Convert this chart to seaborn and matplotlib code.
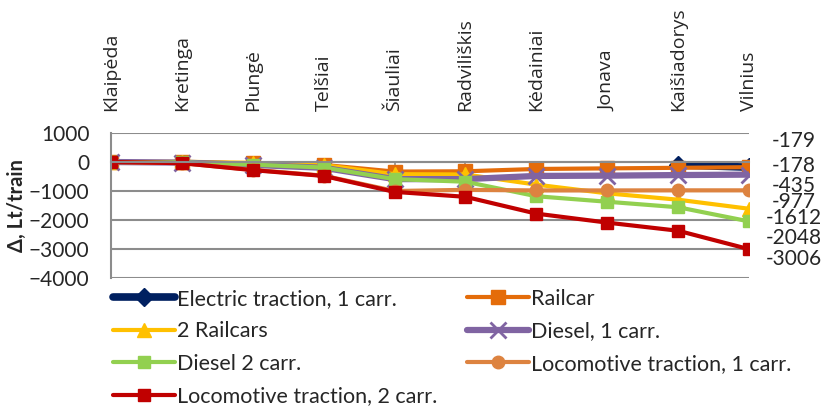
import numpy as np
import pandas as pd
import matplotlib
matplotlib.use("Agg")
import matplotlib.pyplot as plt
import seaborn as sns

# === Data ===
stations = ["Klaipėda", "Kretinga", "Plungė", "Telšiai", "Šiauliai",
            "Radviliškis", "Kėdainiai", "Jonava", "Kaišiadorys", "Vilnius"]

electric_1 = [np.nan, np.nan, np.nan, np.nan, np.nan, np.nan, np.nan, np.nan, -100, -179]
railcar = [0, -10, -50, -100, -330, -320, -240, -220, -200, -178]
railcars_2 = [0, 10, -30, -110, -420, -430, -780, -1080, -1300, -1612]
diesel_1 = [0, -20, -100, -200, -590, -590, -480, -470, -450, -435]
diesel_2 = [0, -10, -90, -190, -590, -680, -1180, -1370, -1560, -2048]
loco_1 = [0, -40, -270, -470, -1000, -960, -980, -980, -977, -977]
loco_2 = [0, -40, -280, -480, -1030, -1200, -1780, -2090, -2370, -3006]

series = [
    # name, values, color, marker, markersize, linewidth, end label, label y-offset (pt)
    ("Electric traction, 1 carr.", electric_1, "#002060", "D", 9, 5.5, "-179", 19),
    ("Railcar", railcar, "#E46C0A", "s", 10, 3, "-178", 0.5),
    ("2 Railcars", railcars_2, "#FFC000", "^", 10, 3, "-1612", -6.5),
    ("Diesel, 1 carr.", diesel_1, "#8064A2", "x", 11, 4.5, "-435", -8),
    ("Diesel 2 carr.", diesel_2, "#92D050", "s", 9, 3, "-2048", -12),
    ("Locomotive traction, 1 carr.", loco_1, "#DD8340", "o", 9, 3, "-977", -8.5),
    ("Locomotive traction, 2 carr.", loco_2, "#C00000", "s", 9, 3, "-3006", -7),
]

sns.set_style("white")
plt.rcParams['font.family'] = ['Lato', 'DejaVu Sans']

fig = plt.figure(figsize=(8.24, 4.08), dpi=100)
ax = fig.add_axes([0.1347, 0.3186, 0.9090 - 0.1347, 0.674 - 0.3186])

x = np.arange(len(stations))
handles = {}
for name, vals, color, marker, ms, lw, lab, dy in series:
    df = pd.DataFrame({"x": x, "y": vals}).dropna()
    sns.lineplot(data=df, x="x", y="y", ax=ax, color=color, marker=marker,
                 markersize=ms, linewidth=lw, markeredgecolor=color,
                 markeredgewidth=2 if marker == "x" else 1, label=name, legend=False)
    handles[name] = ax.lines[-1]
    # value label at the right end
    ax.annotate(lab, xy=(9, vals[-1]), xytext=(32, dy), textcoords="offset points",
                ha="center", va="center", fontsize=15)

ax.set_xlim(0, 9)
ax.set_ylim(-4000, 1000)
ax.set_yticks(range(-4000, 1001, 1000))
ax.tick_params(axis="y", labelsize=15, left=False, pad=12)
ax.grid(axis="y", color="#8c8c8c", linewidth=1.5)
ax.grid(axis="x", visible=False)

ax.set_xticks(x)
ax.set_xticklabels(stations)
ax.spines["bottom"].set_position(("data", 0))
ax.tick_params(axis="x", bottom=True, top=False, labelbottom=False, labeltop=True,
               direction="out", length=5, color="#8c8c8c", width=1.2, pad=11,
               labelrotation=90, labelsize=14)
for tick in ax.xaxis.get_major_ticks():
    tick.label2.set_fontfamily(["Open Sans", "DejaVu Sans"])
for s in ["top", "right"]:
    ax.spines[s].set_visible(False)
ax.spines["left"].set_color("#8c8c8c")
ax.spines["left"].set_linewidth(1.5)
ax.spines["bottom"].set_color("#8c8c8c")
ax.spines["bottom"].set_linewidth(1.5)

ax.set_xlabel("")
ax.set_ylabel("Δ, Lt/train", fontsize=14.5, fontweight="bold", labelpad=1)

order = ["Electric traction, 1 carr.", "2 Railcars", "Diesel 2 carr.",
         "Locomotive traction, 2 carr.", "Railcar", "Diesel, 1 carr.",
         "Locomotive traction, 1 carr."]
fig.legend([handles[n] for n in order], order, loc="upper left",
           bbox_to_anchor=(0.137, 0.292), ncol=2, frameon=False, fontsize=15.5,
           handlelength=2.9, handletextpad=0.1, columnspacing=1.35,
           labelspacing=0.58, borderpad=0, borderaxespad=0)

fig.savefig("out.png", dpi=100)
